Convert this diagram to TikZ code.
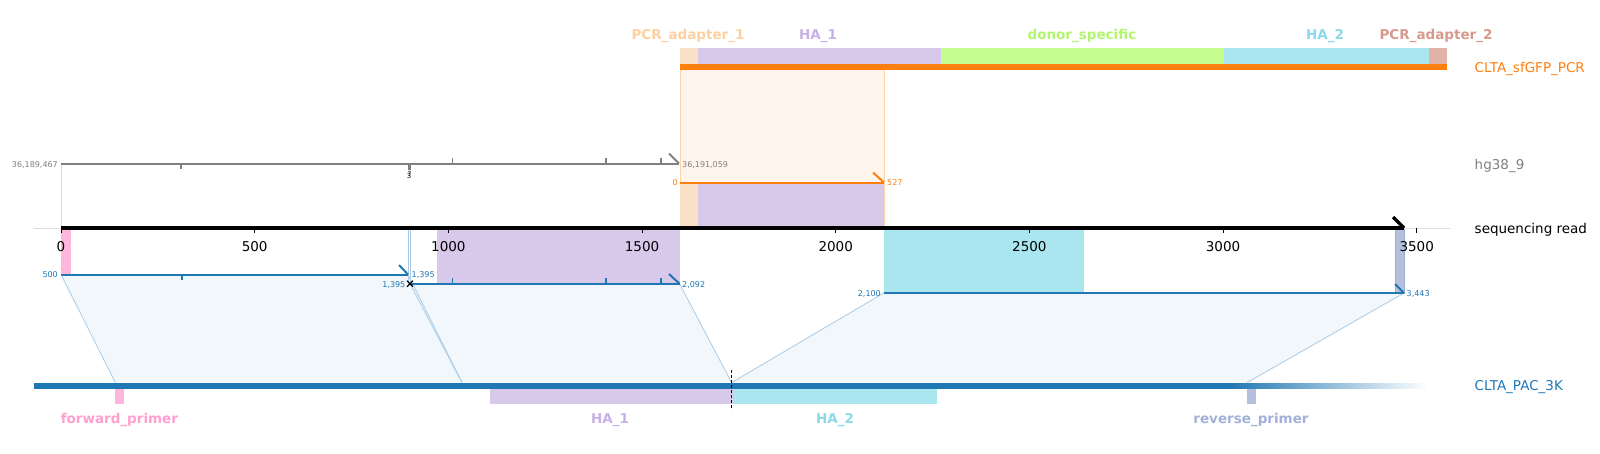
\documentclass[tikz,border=0pt]{standalone}
\usepackage{fontspec}
\setmainfont{DejaVu Sans}

\definecolor{seqblue}{HTML}{1F77B4}
\definecolor{pcrorange}{HTML}{FF7F0E}
\definecolor{refgray}{HTML}{808080}
\definecolor{axisgray}{HTML}{DDDDDD}
\definecolor{adOneFill}{HTML}{FAE0C5}
\definecolor{adOneText}{HTML}{FCD09F}
\definecolor{haOneFill}{HTML}{D8C8EA}
\definecolor{haOneText}{HTML}{C5B1E6}
\definecolor{donorFill}{HTML}{C6FD90}
\definecolor{donorText}{HTML}{B2F56E}
\definecolor{haTwoFill}{HTML}{AAE6EF}
\definecolor{haTwoText}{HTML}{8AD9EA}
\definecolor{adTwoFill}{HTML}{E0B3A7}
\definecolor{adTwoText}{HTML}{D7998B}
\definecolor{fwdFill}{HTML}{FFB6DC}
\definecolor{fwdText}{HTML}{FF9FD0}
\definecolor{revFill}{HTML}{B5C0DD}
\definecolor{revText}{HTML}{A3B0D8}
\definecolor{alnFill}{HTML}{F1F7FB}
\definecolor{alnEdge}{HTML}{A9CBE6}
\definecolor{hlFill}{HTML}{FFF5EC}
\definecolor{hlEdge}{HTML}{FDD3AA}

\begin{document}
\begin{tikzpicture}[x=1pt,y=-1pt,
  tracklbl/.style={anchor=base west, inner sep=0pt, font=\fontsize{13.5}{15}\selectfont},
  featlbl/.style={anchor=base, inner sep=0pt, font=\bfseries\fontsize{13.5}{15}\selectfont},
  poslbl/.style={inner sep=1pt, font=\fontsize{8}{9}\selectfont},
  hook/.style={line width=2pt}]
  \useasboundingbox (0,0) rectangle (1600,453);
  % Define the read scale (pixels per base)
  \def\bp{0.38734}
  \def\axisy{228}

  % Highlight of the PCR product down to the read
  \filldraw[fill=hlFill, draw=hlEdge, line width=0.8pt] (680,69.5) rectangle (884,\axisy);

  % Draw the alignment blocks between read and CLTA_PAC_3K
  \fill[alnFill] (61,274.5) -- (408,274.5) -- (462,382.6) -- (115.3,382.6) -- cycle;
  \fill[alnFill] (410,283.7) -- (679.5,283.7) -- (731.6,382.6) -- (462,382.6) -- cycle;
  \fill[alnFill] (883.7,293) -- (1404,293) -- (1247,382.6) -- (731.6,382.6) -- cycle;
  \foreach \xa/\ya/\xb in {61/274.5/115.3, 408/274.5/462, 410/283.7/462, 679.5/283.7/731.6, 883.7/293/731.6, 1404/293/1247} {
    \draw[alnEdge, line width=0.8pt] (\xa,\ya) -- (\xb,382.6);
  }

  % Draw the features of CLTA_sfGFP_PCR
  \foreach \xa/\xb/\col in {680/698/adOneFill, 698/941/haOneFill, 941/1224/donorFill, 1224/1429/haTwoFill, 1429/1447/adTwoFill} {
    \fill[\col] (\xa,48) rectangle (\xb,63.5);
  }
  \fill[pcrorange] (680,63.5) rectangle (1447,69.5);
  \node[featlbl, text=adOneText] (lblAdOne) at (688,39.8) {PCR\_adapter\_1};
  \node[featlbl, text=haOneText] (lblHaOneTop) at (818,39.8) {HA\_1};
  \node[featlbl, text=donorText] (lblDonor) at (1082,39.8) {donor\_specific};
  \node[featlbl, text=haTwoText] (lblHaTwoTop) at (1325,39.8) {HA\_2};
  \node[featlbl, text=adTwoText] (lblAdTwo) at (1436,39.8) {PCR\_adapter\_2};

  % Draw the hg38_9 reference line
  \draw[axisgray, line width=0.8pt] (61,163.5) -- (61,\axisy);
  \draw[refgray, line width=2pt] (61,163.5) -- (679,163.5);
  \draw[refgray, hook] (669,153.5) -- (679,163.5);
  \draw[refgray, line width=1.5pt] (181,163.5) -- ++(0,5);
  \draw[refgray, line width=3pt] (409,163.5) -- ++(0,6.5);
  \foreach \x in {452.7, 606, 661} {
    \draw[refgray, line width=1.5pt] (\x,163.5) -- ++(0,-5.5);
  }
  \node[font=\fontsize{7}{8}\selectfont, inner sep=0pt] (insThree) at (409,176) {3};
  \node[font=\fontsize{7}{8}\selectfont, inner sep=0pt] (insMark) at (409.5,174) {?};
  \node[poslbl, anchor=base east, text=refgray] (refStart) at (59,167) {36,189,467};
  \node[poslbl, anchor=base west, text=refgray] (refEnd) at (681,167) {36,191,059};

  % Draw the PCR product aligned to the read
  \fill[adOneFill] (680,183.5) rectangle (698,\axisy);
  \fill[haOneFill] (698,183.5) rectangle (884,\axisy);
  \draw[pcrorange, line width=2pt] (680,182.5) -- (884,182.5);
  \draw[pcrorange, hook] (873,172.5) -- (884,182.5);
  \node[poslbl, anchor=base east, text=pcrorange] (pcrStart) at (679,185.5) {0};
  \node[poslbl, anchor=base west, text=pcrorange] (pcrEnd) at (886,185.5) {527};

  % Draw the features below the read axis
  \fill[fwdFill] (61,\axisy) rectangle (70.5,274.5);
  \fill[haOneFill] (437,\axisy) rectangle (679.5,283.7);
  \fill[haTwoFill] (883.7,\axisy) rectangle (1083.7,293);
  \filldraw[fill=revFill, draw=revFill!80!seqblue, line width=0.6pt] (1395.5,\axisy) rectangle (1404,293);
  \draw[alnEdge, line width=0.8pt] (408.3,\axisy) -- (408.3,283.7);
  \draw[alnEdge, line width=0.8pt] (410.7,\axisy) -- (410.7,283.7);

  % Draw the sequencing read axis
  \draw[axisgray, line width=0.8pt] (34,\axisy) -- (1450,\axisy);
  \draw[black, line width=3.5pt] (61,\axisy) -- (1404,\axisy);
  \draw[black, line width=3.5pt] (1393,217) -- (1404,\axisy);
  \foreach \v in {0,500,...,3500} {
    \draw[black, line width=0.8pt] ({61+\v*\bp},\axisy) -- ++(0,5);
    \node[font=\fontsize{13.5}{15}\selectfont, inner sep=0pt] (tick\v) at ({61+\v*\bp},246.5) {\v};
  }

  % Draw the read segments
  \draw[seqblue, line width=2pt] (61,274.5) -- (408,274.5);
  \draw[seqblue, hook] (399,265) -- (408,274.5);
  \draw[seqblue, line width=2.5pt] (182,274.5) -- ++(0,5);
  \draw[seqblue, line width=2pt] (410,283.7) -- (679.5,283.7);
  \draw[seqblue, hook] (669,274) -- (679.5,283.7);
  \foreach \x in {452.7, 606, 661} {
    \draw[seqblue, line width=1.5pt] (\x,283.7) -- ++(0,-5.5);
  }
  \draw[seqblue, line width=2pt] (883.7,293) -- (1404,293);
  \draw[seqblue, hook] (1395,284) -- (1404,293);
  \draw[black, line width=1.2pt] (407,280.7) -- (413,286.7) (407,286.7) -- (413,280.7);
  \node[poslbl, anchor=base east, text=seqblue] (segOneStart) at (59,277.5) {500};
  \node[poslbl, anchor=base west, text=seqblue] (segOneEnd) at (410.5,277.5) {1,395};
  \node[poslbl, anchor=base east, text=seqblue] (segTwoStart) at (406.5,287) {1,395};
  \node[poslbl, anchor=base west, text=seqblue] (segTwoEnd) at (681,287) {2,092};
  \node[poslbl, anchor=base east, text=seqblue] (segThreeStart) at (882,296) {2,100};
  \node[poslbl, anchor=base west, text=seqblue] (segThreeEnd) at (1405.5,296) {3,443};

  % Draw the CLTA_PAC_3K track (fading out at the right)
  \fill[seqblue] (34,382.6) rectangle (1226,388.8);
  \foreach \i [evaluate=\i as \p using 100-2.5*\i] in {0,...,40} {
    \fill[seqblue!\p!white] ({1226+5*\i},382.6) rectangle ({1231.5+5*\i},388.8);
  }
  \foreach \xa/\xb/\col in {115.3/124/fwdFill, 490/733/haOneFill, 733/937/haTwoFill, 1247/1256/revFill} {
    \fill[\col] (\xa,388.8) rectangle (\xb,404);
  }
  \draw[black, line width=0.9pt, dash pattern=on 3pt off 2pt] (731.6,370) -- (731.6,410);
  \node[featlbl, text=fwdText] (lblFwd) at (119.4,423.5) {forward\_primer};
  \node[featlbl, text=haOneText] (lblHaOne) at (610,423.5) {HA\_1};
  \node[featlbl, text=haTwoText] (lblHaTwo) at (835,423.5) {HA\_2};
  \node[featlbl, text=revText] (lblRev) at (1251,423.5) {reverse\_primer};

  % Track names
  \node[tracklbl, text=pcrorange] (nameProduct) at (1474.5,72.3) {CLTA\_sfGFP\_PCR};
  \node[tracklbl, text=refgray] (nameRef) at (1474.5,169.3) {hg38\_9};
  \node[tracklbl, text=black] (nameRead) at (1474.5,233.6) {sequencing read};
  \node[tracklbl, text=seqblue] (namePlasmid) at (1474.5,390.7) {CLTA\_PAC\_3K};
\end{tikzpicture}
\end{document}
